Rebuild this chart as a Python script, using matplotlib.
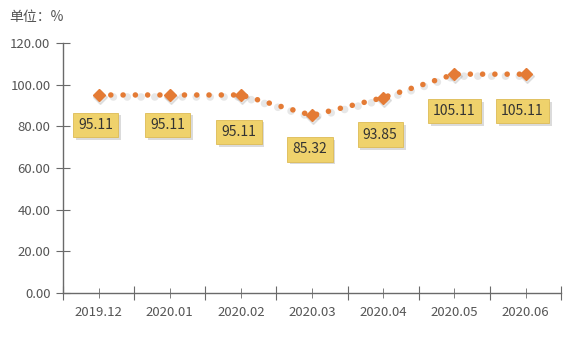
import matplotlib
matplotlib.use("Agg")
import matplotlib.pyplot as plt
import matplotlib.patheffects as pe
import matplotlib.transforms as mtransforms
import numpy as np

plt.rcParams['font.family'] = ['Noto Sans CJK SC', 'DejaVu Sans']

# monthly values, unit %
months = ['2019.12', '2020.01', '2020.02', '2020.03', '2020.04', '2020.05', '2020.06']
values = [95.11, 95.11, 95.11, 85.32, 93.85, 105.11, 105.11]
yticks = [0, 20, 40, 60, 80, 100, 120]

# label offsets below each point (pixels)
label_dx = [-3, -2, -2, -2, -3, 0, -3]
label_dy = [-30, -30, -37, -34, -37, -37, -37]

line_color = '#E47B35'
axis_color = '#6a6a6a'
text_color = '#555555'

fig = plt.figure(figsize=(5.72, 3.48), dpi=100)
ax = fig.add_axes([0.110, 0.158, 0.871, 0.718])

x = np.arange(len(months))

# soft shadow under the dotted line
shadow = mtransforms.offset_copy(ax.transData, fig=fig, x=1, y=-2, units='dots')
ax.plot(x, values, color='#a0a0a0', alpha=0.25, lw=5.5,
        linestyle=(0, (0.01, 1.8)), dash_capstyle='round', transform=shadow)
ax.plot(x, values, color='#a0a0a0', alpha=0.25, marker='D', ms=7.5, lw=0, transform=shadow)

ax.plot(x, values, color=line_color, lw=4,
        linestyle=(0, (0.01, 2.2)), dash_capstyle='round', zorder=3)
ax.plot(x, values, color=line_color, marker='D', ms=6.5, lw=0, zorder=4)

for xi, v, dx, dy in zip(x, values, label_dx, label_dy):
    t = ax.annotate(f'{v:.2f}', (xi, v), xytext=(dx, dy), textcoords='offset pixels',
                    ha='center', va='center', fontsize=10, color='#333333',
                    bbox=dict(boxstyle='square,pad=0.38', fc='#EFD26C', ec='#DDBB55', lw=0.6),
                    zorder=5)
    t.get_bbox_patch().set_path_effects([
        pe.SimplePatchShadow(offset=(2, -2), shadow_rgbFace='#999999', alpha=0.35),
        pe.Normal()])

ax.set_xlim(-0.5, len(months) - 0.5)
ax.set_ylim(0, 120)

ax.set_xticks(np.arange(-0.5, len(months), 1))
ax.set_xticklabels([])
ax.set_xticks(x, minor=True)
ax.set_xticklabels(months, minor=True)
ax.set_yticks(yticks)
ax.set_yticklabels([f'{v:.2f}' for v in yticks])

ax.tick_params(axis='x', which='major', direction='inout', length=10, color=axis_color)
ax.tick_params(axis='x', which='minor', direction='inout', length=7, color=axis_color,
               labelsize=9.5, labelcolor=text_color, pad=6)
ax.tick_params(axis='y', direction='inout', length=10, color=axis_color,
               labelsize=9.5, labelcolor=text_color, pad=4)

for s in ['top', 'right']:
    ax.spines[s].set_visible(False)
for s in ['left', 'bottom']:
    ax.spines[s].set_color(axis_color)
    ax.spines[s].set_linewidth(1)

fig.text(0.017, 0.95, '单位：%', fontsize=10, color=text_color, ha='left', va='center')

fig.savefig('out.png', dpi=100, facecolor='white')
